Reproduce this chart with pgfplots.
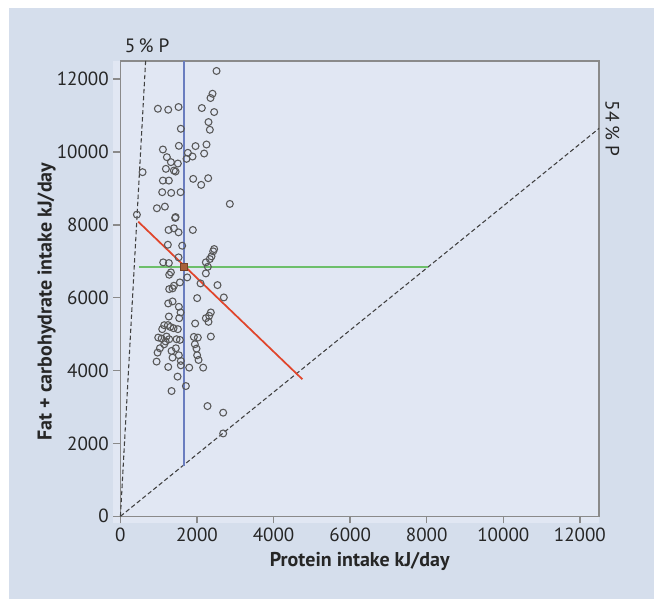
\documentclass[border=0pt]{standalone}
\usepackage{pgfplots}
\pgfplotsset{compat=1.18}
\usepackage{pgfplotstable}
\usepackage{fontspec}
\setmainfont{PT Sans}
\usetikzlibrary{backgrounds,calc}
\definecolor{outerbg}{HTML}{D5DEEC}
\definecolor{panelbg}{HTML}{E1E7F3}
\definecolor{framec}{HTML}{8A8A8A}
\definecolor{meanblue}{HTML}{6A7DBF}
\definecolor{meangreen}{HTML}{6DBF6A}
\definecolor{regred}{HTML}{E0452B}
\definecolor{ptc}{HTML}{585858}
\definecolor{meanc}{HTML}{A8603A}

\pgfplotstableread{
x y
2510 12225
2405 11600
2353 11482
2448 11097
978 11188
1248 11161
1518 11235
2126 11207
2300 10822
2335 10611
1578 10638
1109 10069
1526 10170
1961 10162
2248 10206
2187 9959
1761 9978
1726 9813
1883 9876
1213 9859
1318 9722
1500 9684
1187 9538
1396 9491
1440 9464
1109 9216
1265 9216
1900 9263
2109 9098
2292 9281
578 9447
1091 8897
1326 8878
1570 8897
2857 8575
952 8456
1161 8501
430 8281
1430 8190
1440 8215
1257 7860
1396 7906
1518 7795
1891 7860
1239 7455
1613 7428
2448 7337
2422 7274
2379 7136
2335 7062
1518 7108
1117 6971
1265 6952
2231 6971
2283 6850
1744 6558
2231 6668
1274 6631
1318 6696
1553 6421
1396 6329
1274 6237
1361 6256
2092 6393
2535 6347
2004 5989
2700 6008
1248 5843
1361 5898
1526 5751
1570 5596
1535 5439
1265 5485
2361 5596
2318 5503
2231 5439
2300 5338
1952 5293
1143 5246
1091 5137
1240 5250
1300 5200
1388 5164
1500 5137
987 4907
1075 4880
1205 4935
1274 4861
1143 4723
1180 4800
1466 4861
1553 4842
1918 4925
2022 4907
2361 4935
1944 4723
1031 4613
1448 4613
1335 4540
1987 4604
970 4494
1526 4421
2004 4421
1361 4357
1578 4265
944 4247
2040 4292
1578 4146
1248 4100
1796 4082
2161 4082
1492 3835
1709 3576
1335 3439
2274 3026
2683 2845
2683 2275
}\pts

\begin{document}
\begin{tikzpicture}
\begin{axis}[name=ax, scale only axis, width=359.25pt, height=341.8pt,
  xmin=0, xmax=12500, ymin=0, ymax=12500,
  xtick={0,2000,...,12000}, ytick={0,2000,...,12000},
  tick align=outside, major tick length=5.25pt, tick pos=left,
  axis line style={framec, line width=1.1pt},
  tick style={framec, line width=1.1pt},
  scaled ticks=false,
  /pgf/number format/assume math mode=true,
  /pgf/number format/1000 sep={},
  ticklabel style={font=\fontsize{14.3}{16}\selectfont, text=black!85},
  xlabel={Protein intake kJ/day},
  ylabel={Fat + carbohydrate intake kJ/day},
  label style={font=\bfseries\fontsize{15}{17}\selectfont, text=black!85},
  xlabel style={yshift=-1pt},
  ylabel style={at={(ticklabel cs:0.4715)}, yshift=-6pt},
  clip=false,
]
\addplot[only marks, mark=o, mark size=2.6pt, mark options={draw=ptc, line width=0.8pt}] table[x=x,y=y] {\pts};
\addplot[black!75, line width=0.8pt, dash pattern=on 3.3pt off 2pt] coordinates {(0,0) (658,12500)};
\addplot[black!75, line width=0.8pt, dash pattern=on 3.3pt off 2pt] coordinates {(0,0) (12500,10648)};
\addplot[meanblue, line width=1.1pt] coordinates {(1660,1380) (1660,12500)};
\addplot[meangreen, line width=1.3pt] coordinates {(483,6850) (8040,6850)};
\addplot[regred, line width=1.3pt] coordinates {(465,8088) (4753,3761)};
\addplot[only marks, mark=square*, mark size=2.4pt, mark options={fill=meanc, draw=meanc!70!black, line width=0.4pt}] coordinates {(1657,6850)};
\node[anchor=base, font=\fontsize{14.5}{16}\selectfont, text=black!85] at (axis cs:700,12500) [yshift=6pt] {5\,\% P};
\node[rotate=-90, anchor=center, font=\fontsize{14.5}{16}\selectfont, text=black!85] at (axis cs:12850,10650) {54\,\% P};
\end{axis}
\begin{scope}[on background layer]
  \fill[white] ($(ax.south west)+(-90.4pt,-61.7pt)$) rectangle ($(ax.north east)+(41.25pt,45.75pt)$);
  \fill[outerbg] ($(ax.south west)+(-83.6pt,-61.7pt)$) rectangle ($(ax.north east)+(41.25pt,39.5pt)$);
  \fill[panelbg] ($(ax.south west)+(-5.25pt,-5.25pt)$) rectangle (ax.north east);
\end{scope}
\end{tikzpicture}
\end{document}
